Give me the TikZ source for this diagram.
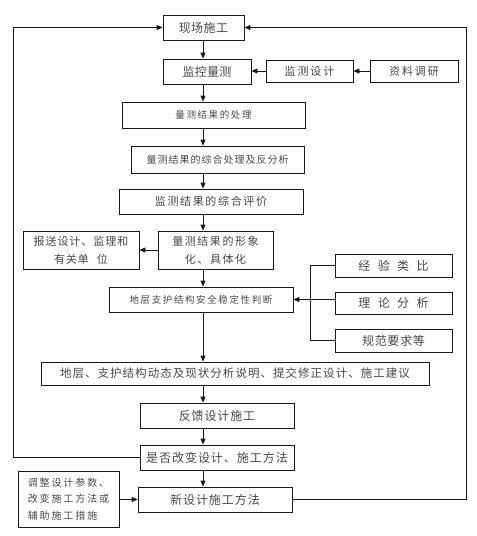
\documentclass[tikz,border=0pt]{standalone}
\usepackage{fontspec}
\setmainfont{Noto Sans CJK SC}
\usetikzlibrary{arrows.meta}
\newcommand{\fsz}[2]{\fontsize{#1}{#2}\selectfont}
\newcommand{\lsp}[1]{\addfontfeature{LetterSpace=#1}}
\begin{document}
\begin{tikzpicture}[x=1pt,y=-1pt,
  box/.style={draw=black!90, line width=0.8pt, inner sep=0pt, align=center, text=black!72},
  arr/.style={draw=black!90, line width=0.8pt, -{Triangle[length=6pt,width=5pt]}},
  ln/.style={draw=black!90, line width=0.8pt}]
\useasboundingbox (0,0) rectangle (477,536);
% main column
\node[box, minimum width=81pt, minimum height=25pt, font=\fsz{12}{14}\lsp{4}] (xc) at (203.5,27.5) {现场施工};
\node[box, minimum width=88pt, minimum height=25pt, font=\fsz{12}{14}\lsp{2}] (jkcl) at (207,71.5) {监控量测};
\node[box, minimum width=87pt, minimum height=22pt, font=\fsz{11}{13}\lsp{18}] (jcsj) at (309.5,71) {监测设计};
\node[box, minimum width=88pt, minimum height=22pt, font=\fsz{11}{13}\lsp{18}] (zlty) at (414,71) {资料调研};
\node[box, minimum width=183pt, minimum height=26pt, font=\fsz{9.5}{12}\lsp{17}] (cl) at (213.5,115) {量测结果的处理};
\node[box, minimum width=173pt, minimum height=27pt, font=\fsz{10}{12}\lsp{10}] (zh) at (217.5,159.5) {量测结果的综合处理及反分析};
\node[box, minimum width=184pt, minimum height=25pt, font=\fsz{11}{13}\lsp{15}] (pj) at (211,201.5) {监测结果的综合评价};
\node[box, minimum width=115pt, minimum height=38pt, font=\fsz{11}{18}\lsp{14}] (xx) at (215.5,250) {量测结果的形象\\化、具体化};
\node[box, minimum width=116pt, minimum height=38pt, font=\fsz{11}{18}\lsp{9}] (bs) at (81,250) {报送设计、监理和\\有关单\hspace{8pt}位};
\node[box, minimum width=184pt, minimum height=25pt, font=\fsz{9.5}{12}\lsp{17}] (pd) at (201,299.5) {地层支护结构安全稳定性判断};
\node[box, minimum width=117pt, minimum height=23pt, font=\fsz{12}{14}\lsp{62}] (jy) at (393.5,265.5) {经验类比};
\node[box, minimum width=117pt, minimum height=22pt, font=\fsz{12}{14}\lsp{62}] (ll) at (393.5,303) {理论分析};
\node[box, minimum width=117pt, minimum height=23pt, font=\fsz{12}{14}\lsp{6}] (gf) at (393.5,340.5) {规范要求等};
\node[box, minimum width=388pt, minimum height=23pt, font=\fsz{11.5}{13}\lsp{9}] (dt) at (235,373.5) {地层、支护结构动态及现状分析说明、提交修正设计、施工建议};
\node[box, minimum width=154pt, minimum height=25pt, font=\fsz{12}{14}\lsp{7}] (fk) at (217,415.5) {反馈设计施工};
\node[box, minimum width=154pt, minimum height=25pt, font=\fsz{12}{14}\lsp{8}] (sf) at (217,457.5) {是否改变设计、施工方法};
\node[box, minimum width=154pt, minimum height=25pt, font=\fsz{12}{14}\lsp{8}] (xsj) at (215,499.5) {新设计施工方法};
\node[box, align=left, minimum width=101pt, minimum height=56pt, font=\fsz{10}{16.5}\lsp{19}] (tz) at (68.5,499) {调整设计参数、\\改变施工方法或\\辅助施工措施};
% guide coordinates
\coordinate (cx) at (203,0);
\coordinate (bx) at (310,0);
\coordinate (lx) at (13,0);
\coordinate (rx) at (466,0);
% vertical chain
\draw[arr] (cx |- xc.south) -- (cx |- jkcl.north);
\draw[arr] (cx |- jkcl.south) -- (cx |- cl.north);
\draw[arr] (cx |- cl.south) -- (cx |- zh.north);
\draw[arr] (cx |- zh.south) -- (cx |- pj.north);
\draw[arr] (cx |- pj.south) -- (cx |- xx.north);
\draw[arr] (cx |- xx.south) -- (cx |- pd.north);
\draw[arr] (cx |- pd.south) -- (cx |- dt.north);
\draw[arr] (cx |- dt.south) -- (cx |- fk.north);
\draw[arr] (cx |- fk.south) -- (cx |- sf.north);
\draw[arr] (cx |- sf.south) -- (cx |- xsj.north);
% side arrows
\draw[arr] (zlty.west) -- (jcsj.east);
\draw[arr] (jcsj.west) -- (jkcl.east |- jcsj.west);
\draw[arr] (xx.west) -- (bs.east);
\draw[arr] (tz.east |- xsj.west) -- (xsj.west);
% bracket
\draw[ln] (jy.west) -- (jy.west -| bx) -- (gf.west -| bx) -- (gf.west);
\draw[arr] (ll.west |- pd.east) -- (pd.east);
% feedback loops
\draw[arr] (sf.west) -- (sf.west -| lx) -- (lx |- xc.west) -- (xc.west);
\draw[arr] (xsj.east) -- (xsj.east -| rx) -- (rx |- xc.east) -- (xc.east);
\end{tikzpicture}
\end{document}
